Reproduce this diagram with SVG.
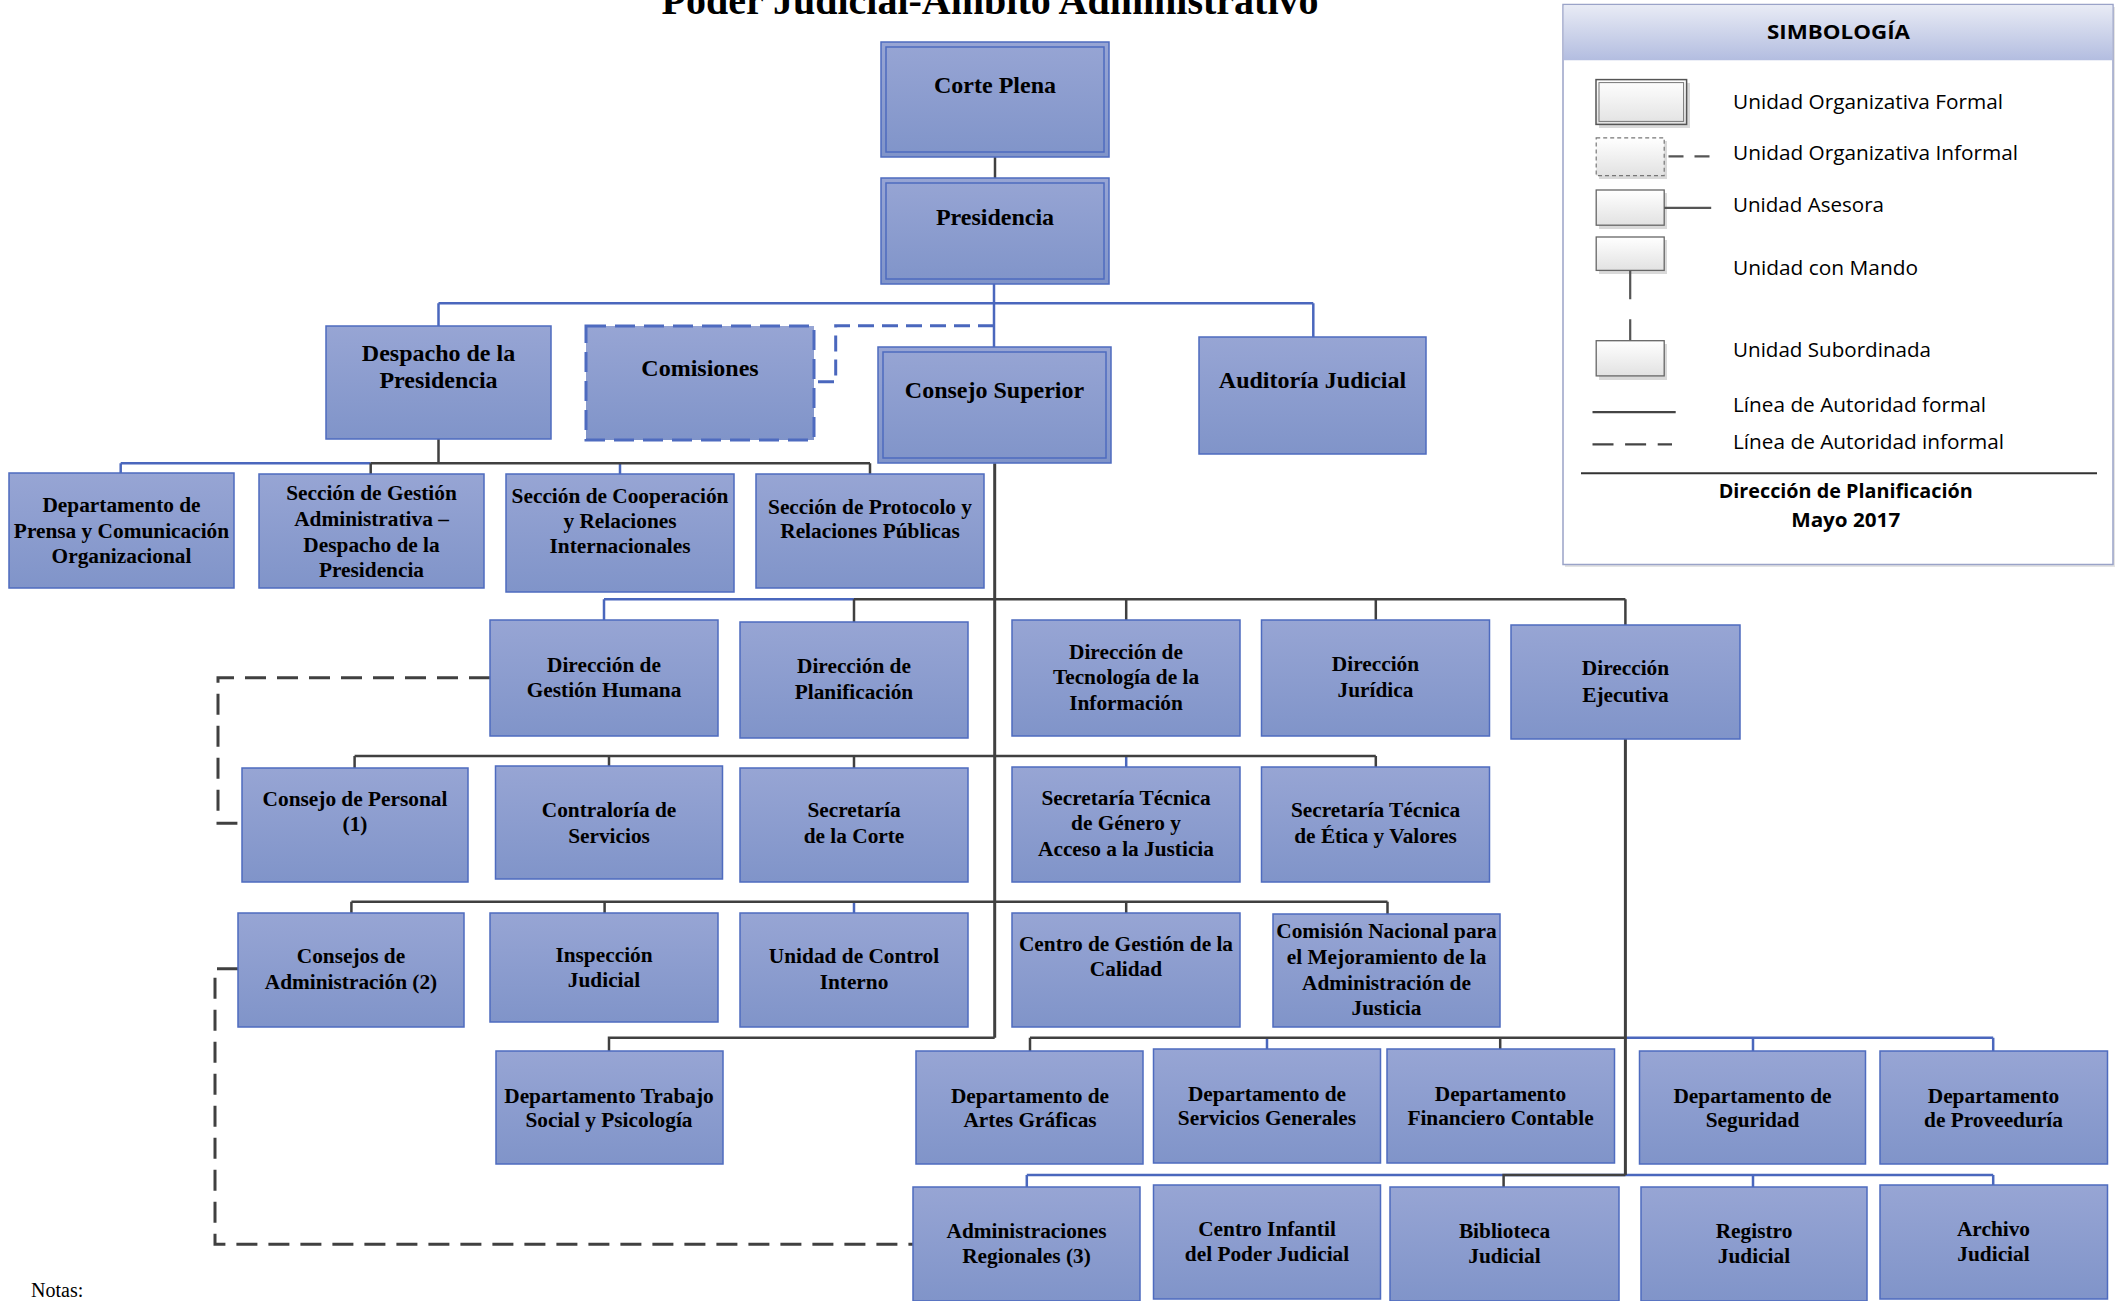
<svg xmlns="http://www.w3.org/2000/svg" width="2127" height="1301" viewBox="0 0 2127 1301">
<defs>
<linearGradient id="bg" x1="0" y1="0" x2="0" y2="1">
<stop offset="0" stop-color="#97a5d4"/>
<stop offset="1" stop-color="#8094c9"/>
</linearGradient>
<linearGradient id="hg" x1="0" y1="0" x2="0" y2="1">
<stop offset="0" stop-color="#e8ebf5"/>
<stop offset="1" stop-color="#b3bde0"/>
</linearGradient>
<linearGradient id="lgr" x1="0" y1="0" x2="0" y2="1">
<stop offset="0" stop-color="#ffffff"/>
<stop offset="1" stop-color="#e2e2e2"/>
</linearGradient>
</defs>
<style>
.box{fill:url(#bg);stroke:#4e6bbf;stroke-width:1.5}
.in{fill:none;stroke:#4e6bbf;stroke-width:1.5}
.t{font-family:"Liberation Serif","Times New Roman",serif;font-weight:bold;font-size:21.33px;text-anchor:middle;fill:#000}
.tl{font-size:24px}
.c{fill:none;stroke:#404040;stroke-width:2.5}
.m{stroke-width:3}
.b{fill:none;stroke:#4a67bd;stroke-width:2.5}
.d{stroke-dasharray:21 11}
.db{fill:none;stroke:#4a67bd;stroke-width:3;stroke-dasharray:16 8}
.lg{font-family:"Open Sans","Liberation Sans",sans-serif;font-size:20px;fill:#000}
.lgb{font-family:"Open Sans","Liberation Sans",sans-serif;font-size:20px;font-weight:bold;fill:#000;text-anchor:middle}
.lr{fill:url(#lgr);stroke:#666;stroke-width:1.3}
.sh{fill:#d9d9d9}
</style>

<text x="990" y="13.5" font-family="Liberation Serif, Times New Roman, serif" font-weight="bold" font-size="40" text-anchor="middle">Poder Judicial-Ámbito Administrativo</text>

<g id="connectors">
<!-- blue formal lines -->
<path class="b" d="M994 284V347"/>
<path class="b" d="M438.5 303.3H1313.3M438.5 303.3V326M1313.3 303.3V337"/>
<path class="b" d="M120.7 463.3H370.7M120.7 463.3V473M620 463.3V474"/>
<path class="b" d="M604 599.3H854M604 599.3V620"/>
<path class="b" d="M1126.2 756V767"/>
<path class="b" d="M854 901.7V913"/>
<path class="b" d="M1625.4 1037.7H1993.2M1267 1037.7V1049M1753 1037.7V1051M1993.2 1037.7V1051"/>
<path class="b" d="M1026.8 1175H1993.2M1026.8 1175V1187M1753 1175V1187M1993.2 1175V1185"/>
<!-- dark formal lines -->
<path class="c" d="M995 157V178"/>
<path class="c" d="M438.5 439V463.3M370.7 463.3H870M370.7 463.3V474M870 463.3V474"/>
<path class="c m" d="M994.7 463.3V1037.7"/>
<path class="c" d="M854 599.3H1625.4M854 599.3V622M1126.2 599.3V620M1375.8 599.3V620M1625.4 599.3V625"/>
<path class="c" d="M354.6 756H1375.8M354.6 756V768M609 756V766M854 756V768M1375.8 756V767"/>
<path class="c" d="M351.4 901.7H1387.5M351.4 901.7V913M604.6 901.7V913M1126.2 901.7V913M1387.5 901.7V914"/>
<path class="c" d="M994.7 1037.7H609V1051"/>
<path class="c m" d="M1625.4 739V1175"/>
<path class="c" d="M1030 1037.7H1625.4M1030 1037.7V1051M1500.2 1037.7V1049"/>
<path class="c" d="M1625.4 1175H1503.6V1187"/>
<!-- informal dashed lines -->
<path class="db" d="M994 325.7H835.7V381.7H814"/>
<path class="c m d" d="M490 677.7H218V823.3H242"/>
<path class="c m d" d="M238 968.7H215V1244.3H913"/>
</g>

<g id="corte-plena"><rect class="box" x="881" y="42" width="228" height="115"/><rect class="in" x="886" y="47" width="218" height="105"/><text class="t tl" x="995" y="93">Corte Plena</text></g>
<g id="presidencia"><rect class="box" x="881" y="178" width="228" height="106"/><rect class="in" x="886" y="183" width="218" height="96"/><text class="t tl" x="995" y="225">Presidencia</text></g>
<g id="despacho"><rect class="box" x="326" y="326" width="225" height="113"/><text class="t tl" x="438.5" y="361">Despacho de la</text><text class="t tl" x="438.5" y="388">Presidencia</text></g>
<g id="comisiones"><rect x="586" y="326" width="228" height="114" fill="url(#bg)" stroke="#4e6bbf" stroke-width="3" stroke-dasharray="20 9"/><text class="t tl" x="700" y="375.5">Comisiones</text></g>
<g id="consejo-superior"><rect class="box" x="878" y="347" width="233" height="116"/><rect class="in" x="883" y="352" width="223" height="106"/><text class="t tl" x="994.5" y="398">Consejo Superior</text></g>
<g id="auditoria"><rect class="box" x="1199" y="337" width="227" height="117"/><text class="t tl" x="1312.5" y="387.7">Auditoría Judicial</text></g>

<g id="prensa"><rect class="box" x="9" y="473" width="225" height="115"/><text class="t" x="121.5" y="511.5">Departamento de</text><text class="t" x="121.5" y="537.5">Prensa y Comunicación</text><text class="t" x="121.5" y="563">Organizacional</text></g>
<g id="gestion-administrativa"><rect class="box" x="259" y="474" width="225" height="114"/><text class="t" x="371.5" y="500">Sección de Gestión</text><text class="t" x="371.5" y="525.5">Administrativa –</text><text class="t" x="371.5" y="551.5">Despacho de la</text><text class="t" x="371.5" y="576.5">Presidencia</text></g>
<g id="cooperacion"><rect class="box" x="506" y="474" width="228" height="118"/><text class="t" x="620" y="502.5">Sección de Cooperación</text><text class="t" x="620" y="527.5">y Relaciones</text><text class="t" x="620" y="553">Internacionales</text></g>
<g id="protocolo"><rect class="box" x="756" y="474" width="228" height="114"/><text class="t" x="870" y="514">Sección de Protocolo y</text><text class="t" x="870" y="538">Relaciones Públicas</text></g>

<g id="gestion-humana"><rect class="box" x="490" y="620" width="228" height="116"/><text class="t" x="604" y="672">Dirección de</text><text class="t" x="604" y="697">Gestión Humana</text></g>
<g id="planificacion"><rect class="box" x="740" y="622" width="228" height="116"/><text class="t" x="854" y="673">Dirección de</text><text class="t" x="854" y="698.5">Planificación</text></g>
<g id="tecnologia"><rect class="box" x="1012" y="620" width="228" height="116"/><text class="t" x="1126" y="659">Dirección de</text><text class="t" x="1126" y="684">Tecnología de la</text><text class="t" x="1126" y="710">Información</text></g>
<g id="juridica"><rect class="box" x="1261.5" y="620" width="228" height="116"/><text class="t" x="1375.5" y="671">Dirección</text><text class="t" x="1375.5" y="697">Jurídica</text></g>
<g id="ejecutiva"><rect class="box" x="1511" y="625" width="229" height="114"/><text class="t" x="1625.5" y="675">Dirección</text><text class="t" x="1625.5" y="701.5">Ejecutiva</text></g>

<g id="consejo-personal"><rect class="box" x="242" y="768" width="226" height="114"/><text class="t" x="355" y="805.5">Consejo de Personal</text><text class="t" x="355" y="831">(1)</text></g>
<g id="contraloria"><rect class="box" x="495.5" y="766" width="227" height="113"/><text class="t" x="609" y="816.5">Contraloría de</text><text class="t" x="609" y="842.5">Servicios</text></g>
<g id="secretaria-corte"><rect class="box" x="740" y="768" width="228" height="114"/><text class="t" x="854" y="817">Secretaría</text><text class="t" x="854" y="843">de la Corte</text></g>
<g id="genero"><rect class="box" x="1012" y="767" width="228" height="115"/><text class="t" x="1126" y="805">Secretaría Técnica</text><text class="t" x="1126" y="830">de Género y</text><text class="t" x="1126" y="856">Acceso a la Justicia</text></g>
<g id="etica"><rect class="box" x="1261.5" y="767" width="228" height="115"/><text class="t" x="1375.5" y="817">Secretaría Técnica</text><text class="t" x="1375.5" y="843">de Ética y Valores</text></g>

<g id="consejos-administracion"><rect class="box" x="238" y="913" width="226" height="114"/><text class="t" x="351" y="963">Consejos de</text><text class="t" x="351" y="989">Administración (2)</text></g>
<g id="inspeccion"><rect class="box" x="490" y="913" width="228" height="109"/><text class="t" x="604" y="961.5">Inspección</text><text class="t" x="604" y="986.5">Judicial</text></g>
<g id="control-interno"><rect class="box" x="740" y="913" width="228" height="114"/><text class="t" x="854" y="963">Unidad de Control</text><text class="t" x="854" y="989">Interno</text></g>
<g id="calidad"><rect class="box" x="1012" y="913" width="228" height="114"/><text class="t" x="1126" y="951">Centro de Gestión de la</text><text class="t" x="1126" y="976">Calidad</text></g>
<g id="comision-nacional"><rect class="box" x="1273" y="914" width="227" height="113"/><text class="t" x="1386.5" y="938">Comisión Nacional para</text><text class="t" x="1386.5" y="964">el Mejoramiento de la</text><text class="t" x="1386.5" y="990">Administración de</text><text class="t" x="1386.5" y="1015">Justicia</text></g>

<g id="trabajo-social"><rect class="box" x="496" y="1051" width="227" height="113"/><text class="t" x="609" y="1102.5">Departamento Trabajo</text><text class="t" x="609" y="1127">Social y Psicología</text></g>
<g id="artes-graficas"><rect class="box" x="916" y="1051" width="227" height="113"/><text class="t" x="1030" y="1102.5">Departamento de</text><text class="t" x="1030" y="1127">Artes Gráficas</text></g>
<g id="servicios-generales"><rect class="box" x="1153.5" y="1049" width="227" height="114"/><text class="t" x="1267" y="1100.5">Departamento de</text><text class="t" x="1267" y="1125">Servicios Generales</text></g>
<g id="financiero"><rect class="box" x="1387" y="1049" width="227.5" height="114"/><text class="t" x="1500.5" y="1100.5">Departamento</text><text class="t" x="1500.5" y="1125">Financiero Contable</text></g>
<g id="seguridad"><rect class="box" x="1639.5" y="1051" width="226" height="113"/><text class="t" x="1752.5" y="1102.5">Departamento de</text><text class="t" x="1752.5" y="1127">Seguridad</text></g>
<g id="proveeduria"><rect class="box" x="1880" y="1051" width="227.5" height="113"/><text class="t" x="1993.5" y="1102.5">Departamento</text><text class="t" x="1993.5" y="1127">de Proveeduría</text></g>

<g id="administraciones-regionales"><rect class="box" x="913" y="1187" width="227" height="114"/><text class="t" x="1026.5" y="1238">Administraciones</text><text class="t" x="1026.5" y="1263">Regionales (3)</text></g>
<g id="centro-infantil"><rect class="box" x="1153.5" y="1185" width="227" height="114"/><text class="t" x="1267" y="1235.5">Centro Infantil</text><text class="t" x="1267" y="1260.5">del Poder Judicial</text></g>
<g id="biblioteca"><rect class="box" x="1390" y="1187" width="229" height="114"/><text class="t" x="1504.5" y="1238">Biblioteca</text><text class="t" x="1504.5" y="1263">Judicial</text></g>
<g id="registro"><rect class="box" x="1641" y="1187" width="226" height="114"/><text class="t" x="1754" y="1238">Registro</text><text class="t" x="1754" y="1263">Judicial</text></g>
<g id="archivo"><rect class="box" x="1880" y="1185" width="227.5" height="114"/><text class="t" x="1993.5" y="1236">Archivo</text><text class="t" x="1993.5" y="1260.5">Judicial</text></g>

<text x="31" y="1297" font-family="Liberation Serif, Times New Roman, serif" font-size="20">Notas:</text>

<g id="legend">
<rect x="1565" y="7" width="550" height="560" fill="#e4e4e4"/>
<rect x="1563" y="4.5" width="550" height="560" fill="#ffffff" stroke="#9aa3c8" stroke-width="1.5"/>
<rect x="1563.75" y="5.25" width="548.5" height="55" fill="url(#hg)"/>
<text class="lgb" x="1838.5" y="39.3" textLength="143" lengthAdjust="spacingAndGlyphs">SIMBOLOGÍA</text>
<rect class="sh" x="1599" y="83" width="91" height="45"/>
<rect x="1596" y="79.6" width="90.6" height="44.8" fill="url(#lgr)" stroke="#555" stroke-width="1.5"/>
<rect x="1599" y="82.6" width="84.6" height="38.8" fill="none" stroke="#777" stroke-width="1"/>
<text class="lg" x="1733" y="109" textLength="270" lengthAdjust="spacingAndGlyphs">Unidad Organizativa Formal</text>
<rect class="sh" x="1599" y="141" width="68" height="38"/>
<rect x="1596.2" y="137.8" width="68" height="37.8" fill="url(#lgr)" stroke="#777" stroke-width="1.2" stroke-dasharray="4 3"/>
<path d="M1668.5 156.3H1711.2" stroke="#555" stroke-width="2.2" stroke-dasharray="15 11"/>
<text class="lg" x="1733" y="160" textLength="285" lengthAdjust="spacingAndGlyphs">Unidad Organizativa Informal</text>
<rect class="sh" x="1599" y="193" width="68" height="36"/>
<rect class="lr" x="1596.2" y="190" width="68" height="35.2"/>
<path d="M1664.2 207.8H1711.2" stroke="#555" stroke-width="2.2"/>
<text class="lg" x="1733" y="212" textLength="151" lengthAdjust="spacingAndGlyphs">Unidad Asesora</text>
<rect class="sh" x="1599" y="240" width="68" height="34"/>
<rect class="lr" x="1596.2" y="237" width="68" height="33.4"/>
<path d="M1630.2 270.4V299.3M1630.2 319.3V340.7" stroke="#555" stroke-width="2.2"/>
<text class="lg" x="1733" y="275" textLength="185" lengthAdjust="spacingAndGlyphs">Unidad con Mando</text>
<rect class="sh" x="1599" y="344" width="68" height="36"/>
<rect class="lr" x="1596.2" y="340.7" width="68" height="35.2"/>
<text class="lg" x="1733" y="356.5" textLength="198" lengthAdjust="spacingAndGlyphs">Unidad Subordinada</text>
<path d="M1592.5 412.2H1675.7" stroke="#444" stroke-width="2.2"/>
<text class="lg" x="1733" y="412" textLength="253" lengthAdjust="spacingAndGlyphs">Línea de Autoridad formal</text>
<path d="M1592.5 444.4H1672" stroke="#444" stroke-width="2.2" stroke-dasharray="21 11.6"/>
<text class="lg" x="1733" y="449" textLength="271" lengthAdjust="spacingAndGlyphs">Línea de Autoridad informal</text>
<path d="M1581 473.3H2097" stroke="#333" stroke-width="2"/>
<text class="lgb" x="1845.7" y="498" textLength="254" lengthAdjust="spacingAndGlyphs">Dirección de Planificación</text>
<text class="lgb" x="1845.7" y="526.7" textLength="109" lengthAdjust="spacingAndGlyphs">Mayo 2017</text>
</g>
</svg>
